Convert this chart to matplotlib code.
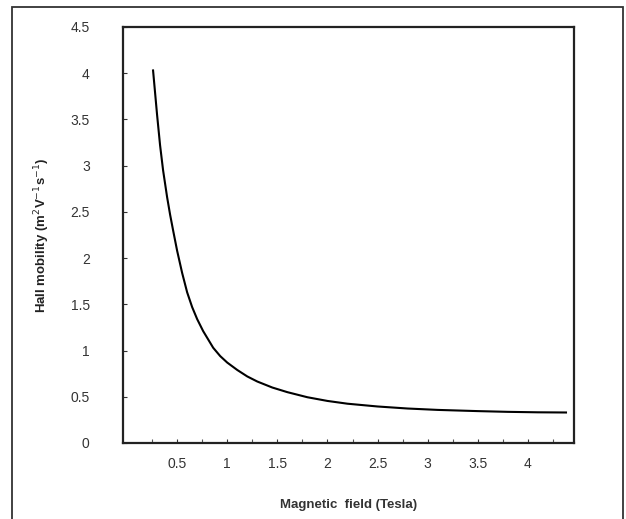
import matplotlib
matplotlib.use("Agg")
import matplotlib.pyplot as plt
from matplotlib.patches import Rectangle

# values
field = [0.26, 0.30, 0.33, 0.36, 0.40, 0.43, 0.46, 0.50, 0.55, 0.60, 0.65, 0.70,
         0.76, 0.86, 0.93, 1.00, 1.10, 1.20, 1.30, 1.45, 1.60, 1.80, 2.00, 2.20,
         2.50, 2.80, 3.10, 3.50, 3.80, 4.10, 4.38]
mobility = [4.03, 3.55, 3.22, 2.95, 2.66, 2.47, 2.30, 2.08, 1.84, 1.63, 1.47, 1.34,
            1.21, 1.03, 0.94, 0.87, 0.79, 0.72, 0.665, 0.60, 0.55, 0.495, 0.455, 0.425,
            0.395, 0.373, 0.358, 0.345, 0.337, 0.332, 0.33]

x_ticks = [0.5, 1, 1.5, 2, 2.5, 3, 3.5, 4]
x_labels = ["0.5", "1", "1.5", "2", "2.5", "3", "3.5", "4"]
y_ticks = [0, 0.5, 1, 1.5, 2, 2.5, 3, 3.5, 4, 4.5]
y_labels = ["0", "0.5", "1", "1.5", "2", "2.5", "3", "3.5", "4", "4.5"]

plt.rcParams['font.family'] = ['Liberation Sans', 'DejaVu Sans']

fig = plt.figure(figsize=(6.26, 5.19), dpi=100)
fig.patch.set_facecolor('white')
# outer frame round the whole chart
fig.patches.append(Rectangle((12/626, -0.02), 611/626, 1.02 - 7/519, transform=fig.transFigure,
                             fill=False, edgecolor='#333333', linewidth=1.3))

ax = fig.add_axes([123/626, 76/519, 451/626, 416/519])
ax.plot(field, mobility, color='black', linewidth=1.5)

ax.set_xlim(-0.04, 4.46)
ax.set_ylim(0, 4.5)

ax.set_xticks(x_ticks)
ax.set_xticklabels(x_labels)
ax.set_xticks([0.25 + 0.5*i for i in range(9)], minor=True)
ax.set_yticks(y_ticks)
ax.set_yticklabels(y_labels)

ax.tick_params(axis='x', direction='in', length=3, width=0.8, pad=10, labelsize=10, colors='#333333')
ax.tick_params(axis='x', which='minor', direction='in', length=3, width=0.8, colors='#555555')
ax.tick_params(axis='y', direction='in', length=3, width=0.8, pad=24, labelsize=10, colors='#333333')
for s in ax.spines.values():
    s.set_linewidth(1.6)
    s.set_color('#222222')

ax.set_xlabel('Magnetic  field (Tesla)', fontsize=9.5, fontweight='bold', color='#333333', labelpad=20)
ax.set_ylabel('Hall mobility (m$^{2}$V$^{-1}$s$^{-1}$)', fontsize=9.5, fontweight='bold',
              color='#222222', labelpad=13)

fig.savefig('out.png', dpi=100)
